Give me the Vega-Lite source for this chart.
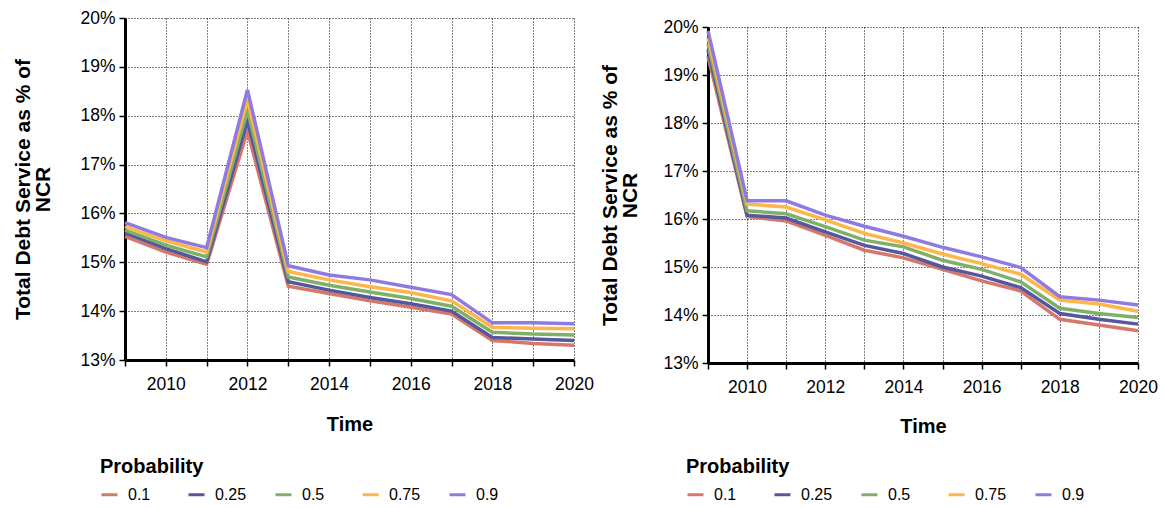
{
  "$schema": "https://vega.github.io/schema/vega-lite/v6.json",
  "background": "white",
  "padding": {"left": 12, "top": 9, "right": 0, "bottom": 5},
  "datasets": {
    "panel_a": [
      {"year": 2009, "p": "0.1", "pct": 15.53}, {"year": 2010, "p": "0.1", "pct": 15.21}, {"year": 2011, "p": "0.1", "pct": 14.96}, {"year": 2012, "p": "0.1", "pct": 17.69},
      {"year": 2013, "p": "0.1", "pct": 14.51}, {"year": 2014, "p": "0.1", "pct": 14.36}, {"year": 2015, "p": "0.1", "pct": 14.21}, {"year": 2016, "p": "0.1", "pct": 14.08},
      {"year": 2017, "p": "0.1", "pct": 13.94}, {"year": 2018, "p": "0.1", "pct": 13.40}, {"year": 2019, "p": "0.1", "pct": 13.34}, {"year": 2020, "p": "0.1", "pct": 13.30},
      {"year": 2009, "p": "0.25", "pct": 15.60}, {"year": 2010, "p": "0.25", "pct": 15.28}, {"year": 2011, "p": "0.25", "pct": 15.01}, {"year": 2012, "p": "0.25", "pct": 17.90},
      {"year": 2013, "p": "0.25", "pct": 14.60}, {"year": 2014, "p": "0.25", "pct": 14.43}, {"year": 2015, "p": "0.25", "pct": 14.28}, {"year": 2016, "p": "0.25", "pct": 14.15},
      {"year": 2017, "p": "0.25", "pct": 14.00}, {"year": 2018, "p": "0.25", "pct": 13.46}, {"year": 2019, "p": "0.25", "pct": 13.43}, {"year": 2020, "p": "0.25", "pct": 13.40},
      {"year": 2009, "p": "0.5", "pct": 15.66}, {"year": 2010, "p": "0.5", "pct": 15.35}, {"year": 2011, "p": "0.5", "pct": 15.11}, {"year": 2012, "p": "0.5", "pct": 18.11},
      {"year": 2013, "p": "0.5", "pct": 14.70}, {"year": 2014, "p": "0.5", "pct": 14.53}, {"year": 2015, "p": "0.5", "pct": 14.39}, {"year": 2016, "p": "0.5", "pct": 14.26},
      {"year": 2017, "p": "0.5", "pct": 14.10}, {"year": 2018, "p": "0.5", "pct": 13.57}, {"year": 2019, "p": "0.5", "pct": 13.53}, {"year": 2020, "p": "0.5", "pct": 13.51},
      {"year": 2009, "p": "0.75", "pct": 15.73}, {"year": 2010, "p": "0.75", "pct": 15.44}, {"year": 2011, "p": "0.75", "pct": 15.21}, {"year": 2012, "p": "0.75", "pct": 18.33},
      {"year": 2013, "p": "0.75", "pct": 14.81}, {"year": 2014, "p": "0.75", "pct": 14.64}, {"year": 2015, "p": "0.75", "pct": 14.50}, {"year": 2016, "p": "0.75", "pct": 14.38},
      {"year": 2017, "p": "0.75", "pct": 14.21}, {"year": 2018, "p": "0.75", "pct": 13.67}, {"year": 2019, "p": "0.75", "pct": 13.65}, {"year": 2020, "p": "0.75", "pct": 13.64},
      {"year": 2009, "p": "0.9", "pct": 15.81}, {"year": 2010, "p": "0.9", "pct": 15.51}, {"year": 2011, "p": "0.9", "pct": 15.30}, {"year": 2012, "p": "0.9", "pct": 18.53},
      {"year": 2013, "p": "0.9", "pct": 14.93}, {"year": 2014, "p": "0.9", "pct": 14.74}, {"year": 2015, "p": "0.9", "pct": 14.64}, {"year": 2016, "p": "0.9", "pct": 14.49},
      {"year": 2017, "p": "0.9", "pct": 14.34}, {"year": 2018, "p": "0.9", "pct": 13.76}, {"year": 2019, "p": "0.9", "pct": 13.76}, {"year": 2020, "p": "0.9", "pct": 13.74}
    ],
    "panel_b": [
      {"year": 2009, "p": "0.1", "pct": 19.39}, {"year": 2010, "p": "0.1", "pct": 16.05}, {"year": 2011, "p": "0.1", "pct": 15.96}, {"year": 2012, "p": "0.1", "pct": 15.66},
      {"year": 2013, "p": "0.1", "pct": 15.35}, {"year": 2014, "p": "0.1", "pct": 15.19}, {"year": 2015, "p": "0.1", "pct": 14.95}, {"year": 2016, "p": "0.1", "pct": 14.71},
      {"year": 2017, "p": "0.1", "pct": 14.50}, {"year": 2018, "p": "0.1", "pct": 13.91}, {"year": 2019, "p": "0.1", "pct": 13.79}, {"year": 2020, "p": "0.1", "pct": 13.67},
      {"year": 2009, "p": "0.25", "pct": 19.53}, {"year": 2010, "p": "0.25", "pct": 16.08}, {"year": 2011, "p": "0.25", "pct": 16.02}, {"year": 2012, "p": "0.25", "pct": 15.73},
      {"year": 2013, "p": "0.25", "pct": 15.45}, {"year": 2014, "p": "0.25", "pct": 15.28}, {"year": 2015, "p": "0.25", "pct": 15.00}, {"year": 2016, "p": "0.25", "pct": 14.81},
      {"year": 2017, "p": "0.25", "pct": 14.57}, {"year": 2018, "p": "0.25", "pct": 14.03}, {"year": 2019, "p": "0.25", "pct": 13.91}, {"year": 2020, "p": "0.25", "pct": 13.81},
      {"year": 2009, "p": "0.5", "pct": 19.65}, {"year": 2010, "p": "0.5", "pct": 16.17}, {"year": 2011, "p": "0.5", "pct": 16.11}, {"year": 2012, "p": "0.5", "pct": 15.84},
      {"year": 2013, "p": "0.5", "pct": 15.56}, {"year": 2014, "p": "0.5", "pct": 15.42}, {"year": 2015, "p": "0.5", "pct": 15.14}, {"year": 2016, "p": "0.5", "pct": 14.95},
      {"year": 2017, "p": "0.5", "pct": 14.69}, {"year": 2018, "p": "0.5", "pct": 14.14}, {"year": 2019, "p": "0.5", "pct": 14.03}, {"year": 2020, "p": "0.5", "pct": 13.95},
      {"year": 2009, "p": "0.75", "pct": 19.78}, {"year": 2010, "p": "0.75", "pct": 16.31}, {"year": 2011, "p": "0.75", "pct": 16.25}, {"year": 2012, "p": "0.75", "pct": 15.98},
      {"year": 2013, "p": "0.75", "pct": 15.70}, {"year": 2014, "p": "0.75", "pct": 15.50}, {"year": 2015, "p": "0.75", "pct": 15.27}, {"year": 2016, "p": "0.75", "pct": 15.07},
      {"year": 2017, "p": "0.75", "pct": 14.85}, {"year": 2018, "p": "0.75", "pct": 14.31}, {"year": 2019, "p": "0.75", "pct": 14.23}, {"year": 2020, "p": "0.75", "pct": 14.08},
      {"year": 2009, "p": "0.9", "pct": 19.92}, {"year": 2010, "p": "0.9", "pct": 16.38}, {"year": 2011, "p": "0.9", "pct": 16.38}, {"year": 2012, "p": "0.9", "pct": 16.08},
      {"year": 2013, "p": "0.9", "pct": 15.85}, {"year": 2014, "p": "0.9", "pct": 15.64}, {"year": 2015, "p": "0.9", "pct": 15.41}, {"year": 2016, "p": "0.9", "pct": 15.21},
      {"year": 2017, "p": "0.9", "pct": 14.99}, {"year": 2018, "p": "0.9", "pct": 14.38}, {"year": 2019, "p": "0.9", "pct": 14.31}, {"year": 2020, "p": "0.9", "pct": 14.21}
    ]
  },
  "spacing": 5,
  "hconcat": [
    {
      "width": 449,
      "height": 342,
      "data": {"name": "panel_a"},
      "mark": {"type": "line", "strokeWidth": 3.5},
      "encoding": {
        "x": {
          "field": "year", "type": "quantitative",
          "scale": {"domain": [2009, 2020], "nice": false, "zero": false},
          "axis": {"title": "Time", "format": "d", "values": [2009, 2010, 2011, 2012, 2013, 2014, 2015, 2016, 2017, 2018, 2019, 2020],
                   "labelExpr": "datum.value % 2 == 0 ? datum.label : ''", "labelPadding": 9, "titlePadding": 22}
        },
        "y": {
          "field": "pct", "type": "quantitative",
          "scale": {"domain": [13, 20], "nice": false, "zero": false},
          "axis": {"title": ["Total Debt Service as % of", "NCR"], "format": "d", "values": [13, 14, 15, 16, 17, 18, 19, 20],
                   "labelExpr": "datum.label + '%'", "labelPadding": 4, "titlePadding": 26}
        },
        "color": {
          "field": "p", "type": "nominal",
          "scale": {"domain": ["0.1", "0.25", "0.5", "0.75", "0.9"], "range": ["#d6776c", "#55589c", "#7fb069", "#ffb547", "#8f7ae0"]},
          "legend": {"title": "Probability", "orient": "none", "legendX": -25, "legendY": 439}
        }
      }
    },
    {
      "spacing": 8,
      "bounds": "flush",
      "vconcat": [
        {
          "width": 430,
          "height": 1,
          "data": {"values": []},
          "mark": "point"
        },
        {
          "width": 430,
          "height": 336,
          "data": {"name": "panel_b"},
          "mark": {"type": "line", "strokeWidth": 3.5},
          "encoding": {
            "x": {
              "field": "year", "type": "quantitative",
              "scale": {"domain": [2009, 2020], "nice": false, "zero": false},
              "axis": {"title": "Time", "format": "d", "values": [2009, 2010, 2011, 2012, 2013, 2014, 2015, 2016, 2017, 2018, 2019, 2020],
                       "labelExpr": "datum.value % 2 == 0 ? datum.label : ''", "labelPadding": 9, "titlePadding": 21}
            },
            "y": {
              "field": "pct", "type": "quantitative",
              "scale": {"domain": [13, 20], "nice": false, "zero": false},
              "axis": {"title": ["Total Debt Service as % of", "NCR"], "format": "d", "values": [13, 14, 15, 16, 17, 18, 19, 20],
                       "labelExpr": "datum.label + '%'", "labelPadding": 4, "titlePadding": 22}
            },
            "color": {
              "field": "p", "type": "nominal",
              "scale": {"domain": ["0.1", "0.25", "0.5", "0.75", "0.9"], "range": ["#d6776c", "#55589c", "#7fb069", "#ffb547", "#8f7ae0"]},
              "legend": {"title": "Probability", "orient": "none", "legendX": -22, "legendY": 439}
            }
          }
        }
      ]
    }
  ],
  "resolve": {"scale": {"color": "independent"}, "legend": {"color": "independent"}},
  "config": {
    "font": "Liberation Sans",
    "view": {"stroke": null},
    "axis": {
      "labelFont": "Liberation Sans", "labelFontSize": 17.5, "labelColor": "black", "labelFlush": false,
      "titleFont": "Liberation Sans", "titleFontSize": 20, "titleFontWeight": "bold", "titleColor": "black",
      "domainColor": "black", "domainWidth": 3,
      "tickColor": "black", "tickSize": 6, "tickWidth": 1.5,
      "grid": true, "gridColor": "black", "gridDash": [1, 2], "gridOpacity": 1, "gridWidth": 1
    },
    "axisY": {"titleFontSize": 21, "titleLineHeight": 20},
    "legend": {
      "direction": "horizontal", "columns": 5, "gridAlign": "all", "columnPadding": 22,
      "titleFont": "Liberation Sans", "titleFontSize": 20, "titleFontWeight": "bold", "titleColor": "black", "titlePadding": 8,
      "labelFont": "Liberation Sans", "labelFontSize": 16, "labelColor": "black", "labelOffset": 9,
      "symbolType": "stroke", "symbolStrokeWidth": 3, "symbolSize": 256
    }
  }
}
